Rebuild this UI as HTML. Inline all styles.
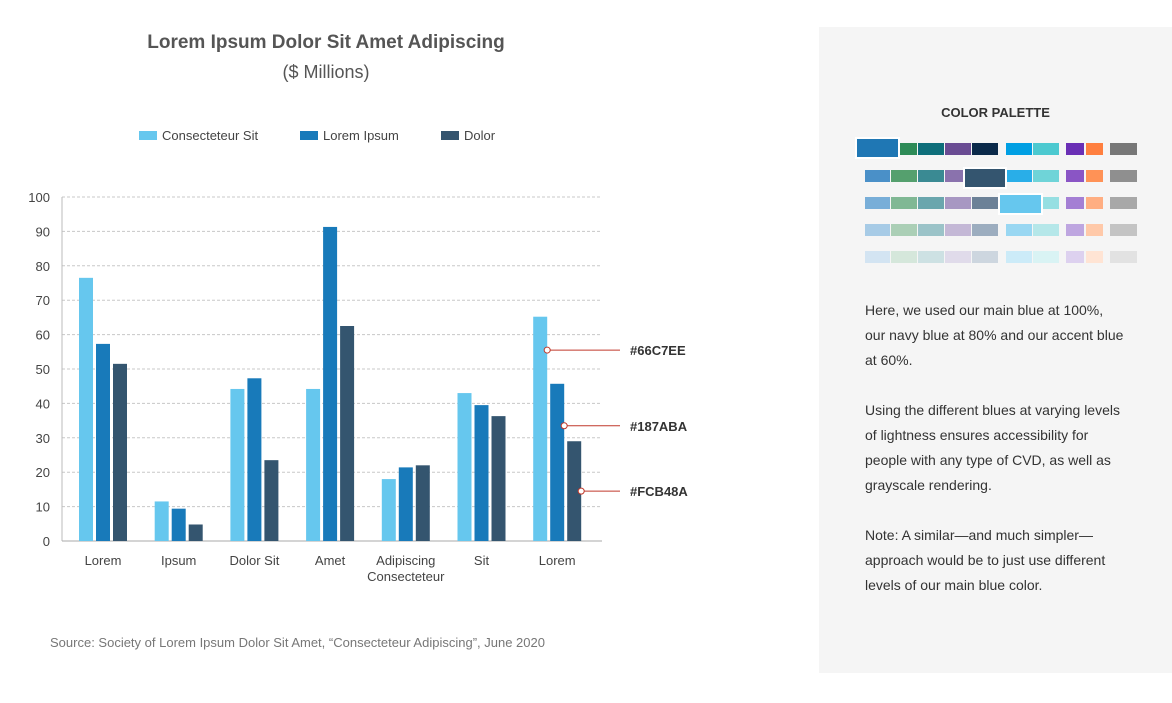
<!DOCTYPE html>
<html><head><meta charset="utf-8"><style>
body{margin:0;width:1172px;height:703px;background:#fff;font-family:"Liberation Sans",sans-serif;position:relative;overflow:hidden;color:#444}
.abs{position:absolute}
#panel{left:819px;top:27px;width:353px;height:646px;background:#f5f5f5}
.p{font-size:14px;color:#333;line-height:25px;position:absolute;left:865px;width:300px}
</style></head><body>
<div class="abs" style="left:0;width:652px;top:32px;text-align:center;font-size:19px;font-weight:bold;color:#555">Lorem Ipsum Dolor Sit Amet Adipiscing</div>
<div class="abs" style="left:0;width:652px;top:62px;text-align:center;font-size:18px;color:#555">($ Millions)</div>
<div id="panel" class="abs"></div>
<div class="abs" style="left:819px;width:353px;top:105px;text-align:center;font-size:13px;font-weight:bold;color:#333">COLOR PALETTE</div>
<div class="p" style="top:298px">Here, we used our main blue at 100%,<br>our navy blue at 80% and our accent blue<br>at 60%.</div>
<div class="p" style="top:398px">Using the different blues at varying levels<br>of lightness ensures accessibility for<br>people with any type of CVD, as well as<br>grayscale rendering.</div>
<div class="p" style="top:523px">Note: A similar—and much simpler—<br>approach would be to just use different<br>levels of our main blue color.</div>
<div class="abs" style="left:50px;top:635px;font-size:13px;color:#777">Source: Society of Lorem Ipsum Dolor Sit Amet, “Consecteteur Adipiscing”, June 2020</div>
<svg id="svg" class="abs" style="left:0;top:0" width="1172" height="703"></svg>
<script>
const categories=["Lorem","Ipsum","Dolor Sit","Amet","Adipiscing|Consecteteur","Sit","Lorem"];
const seriesNames=["Consecteteur Sit","Lorem Ipsum","Dolor"];
const s1=[76.5,11.5,44.2,44.2,18,43,65.2];
const s2=[57.3,9.4,47.3,91.3,21.4,39.5,45.7];
const s3=[51.5,4.8,23.5,62.5,22,36.3,29];
const yTicks=[0,10,20,30,40,50,60,70,80,90,100];
const colors=["#66C7EE","#187ABA","#34556F"];
const NS="http://www.w3.org/2000/svg",svg=document.getElementById('svg');
function mk(t,a,txt){const e=document.createElementNS(NS,t);for(const k in a)e.setAttribute(k,a[k]);if(txt!=null)e.textContent=txt;svg.appendChild(e);return e;}
const x0=62,x1=602,yb=541,yt=197;
const y=v=>yb-(v/100)*(yb-yt);
const firstC=103,band=75.7;
yTicks.forEach(t=>{
 if(t>0){const l=mk('line',{x1:x0,x2:x1,y1:y(t),y2:y(t),stroke:'#c8c8c8','stroke-dasharray':'3,2','stroke-width':1});}
 const tx=mk('text',{x:50,y:y(t)+5,'text-anchor':'end','font-size':13,fill:'#444'},t);
 
});
const ax=mk('line',{x1:x0,x2:x0,y1:yt,y2:yb,stroke:'#bbb'});
const bx=mk('line',{x1:x0,x2:x1,y1:yb,y2:yb,stroke:'#aaa'});
const series=[s1,s2,s3];const bw=14,gap=3;
const pts=[];
categories.forEach((c,i)=>{
 const cx=firstC+band*i;
 series.forEach((s,j)=>{
  const bxp=cx-bw*1.5-gap+j*(bw+gap);
  const r=mk('rect',{x:bxp,y:y(s[i]),width:bw,height:yb-y(s[i]),fill:colors[j]});
  
  if(i===categories.length-1)pts.push([bxp+bw,y(s[i])]);
 });
 c.split('|').forEach((ln,k)=>{const t=mk('text',{x:cx,y:565+k*16,'text-anchor':'middle','font-size':13,fill:'#444'},ln);
  });
});
const ann=["#66C7EE","#187ABA","#FCB48A"];
const annY=[55.5,33.5,14.5];
ann.forEach((a,k)=>{
 const px=pts[k][0],py=y(annY[k]);
 const l=mk('line',{x1:px,x2:620,y1:py,y2:py,stroke:'#c0392b','stroke-width':1});
 const c=mk('circle',{cx:px,cy:py,r:3,fill:'#fff',stroke:'#c0392b'});
 const t=mk('text',{x:630,y:py+5,'font-size':13,'font-weight':'bold',fill:'#333'},a);
});
const lx=[139,300,441];
seriesNames.forEach((n,j)=>{
 const r=mk('rect',{x:lx[j],y:131,width:18,height:9,fill:colors[j]});
 const t=mk('text',{x:lx[j]+23,y:140,'font-size':13,fill:'#444'},n);
});
const rows=[
 ["#1F77B4","#2E8B57","#0E6E7A","#6A4C93","#0B2A4A",null,"#009FE3","#4CC9D0",null,"#6A2FB5","#FF7F3F",null,"#777777"],
 ["#4A90C8","#55A06E","#3A8A93","#8A72AD","#34556F",null,"#29AEE8","#6FD4D8",null,"#8A55C5","#FF9256",null,"#8F8F8F"],
 ["#78AED8","#80B894","#6AA6AD","#A797C2","#6C8197",null,"#66C7EE","#96DFE2",null,"#A47FD4","#FFAE82",null,"#A8A8A8"],
 ["#A7CBE6","#ABCFB6","#9BC3C8","#C4B8D6","#9CADBF",null,"#99D7F2","#B5E7E9",null,"#BEA6E0","#FFC9A9",null,"#C4C4C4"],
 ["#D3E4F2","#D5E7DB","#CDE1E3","#E0DBEA","#CDD6DF",null,"#CCEBF8","#D9F3F4",null,"#DDD1EF","#FFE4D4",null,"#E2E2E2"]];
const cellX=[865,891,918,945,972,0,1006,1033,0,1066,1086,0,1110];
const cellW=[25,26,26,26,26,0,26,26,0,18,17,0,27];
rows.forEach((row,ri)=>{row.forEach((c,ci)=>{if(!c)return;
 const r=mk('rect',{x:cellX[ci],y:143+ri*27,width:cellW[ci],height:12,fill:c});
 });});
[[856,138,43,20,"#1F77B4"],[964,168,42,20,"#34556F"],[999,194,43,20,"#66C7EE"]].forEach(b=>{
 const r=mk('rect',{x:b[0],y:b[1],width:b[2],height:b[3],fill:b[4],stroke:'#fff','stroke-width':2});
 });
</script>
</body></html>
